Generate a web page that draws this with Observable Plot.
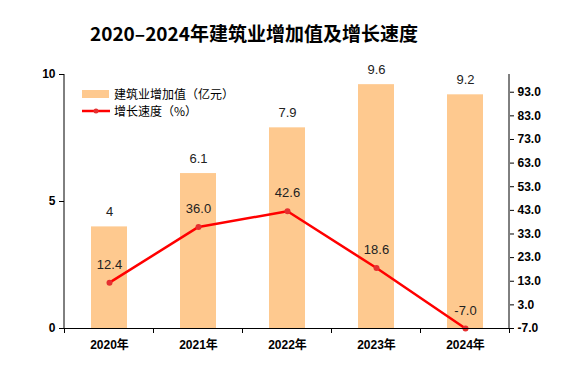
<!DOCTYPE html>
<html><head><meta charset="utf-8">
<script src="https://cdn.jsdelivr.net/npm/d3@7"></script>
<script src="https://cdn.jsdelivr.net/npm/@observablehq/plot@0.6"></script>
<style>
body{margin:0;background:#fff}
#wrap{position:relative;width:571px;height:370px;overflow:hidden}
#title{position:absolute;left:0;width:508px;top:20px;text-align:center;font:bold 19px 'Noto Sans CJK SC',sans-serif;color:#000;line-height:26px}
#legend{position:absolute;left:82px;top:85px;font:12px 'Noto Sans CJK SC',sans-serif;color:#000}
.lrow{display:flex;align-items:center;height:17px}
.lrow svg{margin-right:4px}
</style>
</head><body><div id="wrap"><div id="title">2020–2024年建筑业增加值及增长速度</div>
<div id="legend">
<div class="lrow"><svg width="28" height="10"><rect x="0" y="1" width="27" height="8" fill="#fec98f"/></svg>建筑业增加值（亿元）</div>
<div class="lrow"><svg width="28" height="10"><line x1="0" y1="5" x2="28" y2="5" stroke="#ff0000" stroke-width="2.5"/><circle cx="14" cy="5" r="2.5" fill="#e53030"/></svg>增长速度（%）</div>
</div></div>
<script>
const years = ["2020年","2021年","2022年","2023年","2024年"];
const valueAdded = [4, 6.1, 7.9, 9.6, 9.2];
const valueLabels = ["4","6.1","7.9","9.6","9.2"];
const growth = [12.4, 36.0, 42.6, 18.6, -7.0];
const leftTicks = [0, 5, 10];
const rightTicks = [-7, 3, 13, 23, 33, 43, 53, 63, 73, 83, 93];
const rightDomain = [-7, 100.5];
const leftDomain = [0, 10];

const toLeft = v => (v - rightDomain[0]) / (rightDomain[1] - rightDomain[0]) * (leftDomain[1] - leftDomain[0]);
const fromLeft = d => d / (leftDomain[1] - leftDomain[0]) * (rightDomain[1] - rightDomain[0]) + rightDomain[0];
const data = years.map((y, i) => ({year: y, value: valueAdded[i], label: valueLabels[i], growth: growth[i], g: toLeft(growth[i])}));

const font = "'Liberation Sans','Noto Sans CJK SC',sans-serif";
const plot = Plot.plot({
  width: 571, height: 370,
  marginTop: 74, marginBottom: 42, marginLeft: 64, marginRight: 62,
  style: {fontFamily: font, fontSize: "12px", color: "#000", background: "transparent", overflow: "visible"},
  x: {domain: years, paddingInner: 0.6, paddingOuter: 0.3, label: null},
  y: {domain: leftDomain, label: null},
  marks: [
    Plot.barY(data, {x: "year", y: "value", fill: "#fec98f"}),
    Plot.text(data, {x: "year", y: "value", text: "label", dy: -15, fontSize: 13, fill: "#222"}),
    Plot.line(data, {x: "year", y: "g", stroke: "#ff0000", strokeWidth: 2.5}),
    Plot.dot(data, {x: "year", y: "g", r: 3, fill: "#e53030"}),
    Plot.text(data, {x: "year", y: "g", text: d => d.growth.toFixed(1), dy: -18, fontSize: 13, fill: "#222"}),
    Plot.axisY(leftTicks, {anchor: "left", tickSize: 5, tickPadding: 4, fontWeight: "bold", fontSize: 12, label: null, stroke: "#000"}),
    Plot.axisY(rightTicks.map(toLeft), {anchor: "right", tickSize: 4, tickPadding: 4, tickFormat: d => fromLeft(d).toFixed(1), fontWeight: "bold", fontSize: 12, label: null, stroke: "#000"}),
    Plot.axisX({tickSize: 0, tickPadding: 12, fontWeight: "bold", fontSize: 12, label: null}),
    Plot.ruleY([0], {stroke: "#000", strokeWidth: 1})
  ]
});
document.getElementById("wrap").appendChild(plot);
plot.style.position = "absolute"; plot.style.left = "0"; plot.style.top = "0";

// axis lines and category boundary ticks, from the Plot scales
const xs = plot.scale("x"), ys = plot.scale("y");
const svg = d3.select(plot);
const [x0, x1] = xs.range, [yb, yt] = ys.range;
const g = svg.append("g").attr("stroke", "#000").attr("stroke-width", 1);
g.append("line").attr("x1", x0).attr("x2", x0).attr("y1", yt).attr("y2", yb);
g.append("line").attr("x1", x1).attr("x2", x1).attr("y1", yt).attr("y2", yb);
const step = xs.step, bw = xs.bandwidth;
const first = xs.apply(years[0]) - (step - bw) / 2;
d3.range(years.length + 1).forEach(i => {
  const x = first + i * step;
  g.append("line").attr("x1", x).attr("x2", x).attr("y1", yb).attr("y2", yb + 5);
});
</script>
</body></html>
